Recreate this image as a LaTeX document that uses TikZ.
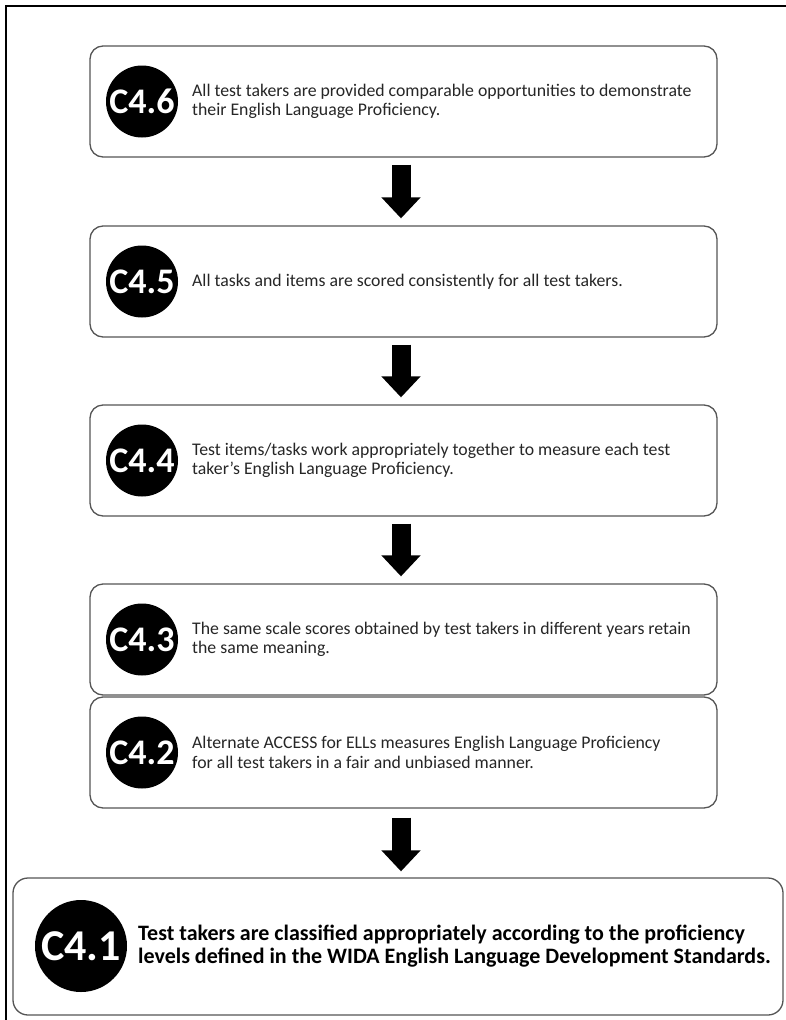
\documentclass[tikz,border=0pt]{standalone}
\usepackage{fontspec}
\setmainfont{Carlito}
\usetikzlibrary{arrows.meta}
\definecolor{boxgray}{HTML}{555555}
\definecolor{txtgray}{HTML}{262626}
\begin{document}
\begin{tikzpicture}[x=1pt,y=-1pt,
  box/.style={draw=boxgray, line width=1.3pt, rounded corners=13pt, inner sep=0pt,
    minimum width=627pt, minimum height=111pt},
  badge/.style={circle, fill=black, inner sep=0pt, minimum size=72pt, text=white,
    font=\fontsize{36}{36}\selectfont\bfseries},
  desc/.style={anchor=west, inner sep=0pt, align=left, text=txtgray,
    font=\fontsize{17.75}{19.5}\selectfont},
  bigarrow/.style={line width=19pt, -{Triangle[width=38pt,length=21pt]}}]
\useasboundingbox (0,0) rectangle (786,1020);
\fill[white] (0,0) rectangle (786,1020);
% outer frame (cropped)
\draw[line width=1.6pt] (6,1020) -- (6,6) -- (786,6);

% boxes
\node[box] (b6) at (403.5,101.5) {};
\node[box] (b5) at (403.5,281.5) {};
\node[box] (b4) at (403.5,460.5) {};
\node[box] (b3) at (403.5,639.5) {};
\node[box] (b2) at (403.5,752.5) {};
\node[box, minimum width=770pt, minimum height=137pt, rounded corners=15pt] (b1) at (398,946.5) {};

% badges
\node[badge] (c6) at (142,101.5) {C4.6};
\node[badge] (c5) at (142,281.5) {C4.5};
\node[badge] (c4) at (142,460.5) {C4.4};
\node[badge] (c3) at (142,639.5) {C4.3};
\node[badge] (c2) at (142,752.5) {C4.2};
\node[badge, minimum size=92pt, font=\fontsize{44}{44}\selectfont\bfseries] (c1) at (81,946) {C4.1};

% texts
\node[desc] (t6) at (192,101.5) {All test takers are provided comparable opportunities to demonstrate\\their English Language Proficiency.};
\node[desc] (t5) at (192,281.5) {All tasks and items are scored consistently for all test takers.};
\node[desc] (t4) at (192,460.5) {Test items/tasks work appropriately together to measure each test\\taker’s English Language Proficiency.};
\node[desc] (t3) at (192,639.5) {The same scale scores obtained by test takers in different years retain\\the same meaning.};
\node[desc] (t2) at (192,752.5) {Alternate ACCESS for ELLs measures English Language Proficiency\\for all test takers in a fair and unbiased manner.};
\node[desc, text=black, font=\fontsize{22}{23}\selectfont\bfseries] (t1) at (138,946.5) {Test takers are classified appropriately according to the proficiency\\levels defined in the WIDA English Language Development Standards.};

% arrows
\coordinate (ax) at (401,0);
\draw[bigarrow] ([yshift=-7pt]b6.south -| ax) -- ([yshift=7pt]b5.north -| ax);
\draw[bigarrow] ([yshift=-7pt]b5.south -| ax) -- ([yshift=7pt]b4.north -| ax);
\draw[bigarrow] ([yshift=-7pt]b4.south -| ax) -- ([yshift=7pt]b3.north -| ax);
\draw[bigarrow] ([yshift=-9pt]b2.south -| ax) -- ([yshift=6pt]b1.north -| ax);
\end{tikzpicture}
\end{document}
